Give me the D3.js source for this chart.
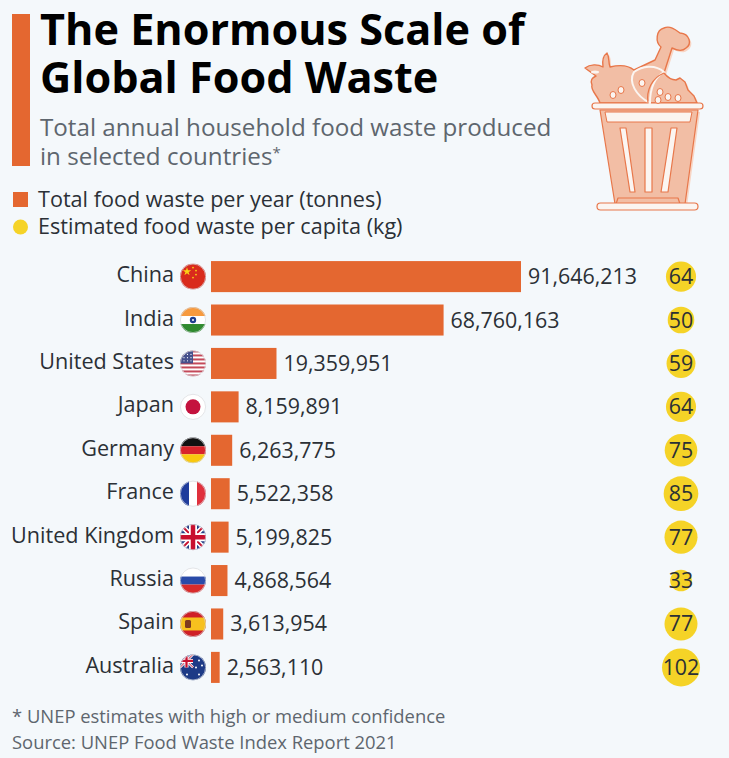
<!DOCTYPE html>
<html>
<head>
<meta charset="utf-8">
<script src="https://cdn.jsdelivr.net/npm/d3@7/dist/d3.min.js"></script>
<style>
html, body { margin: 0; padding: 0; background: #f4f8fb; }
svg { display: block; font-family: "Open Sans", sans-serif; }
</style>
</head>
<body>
<svg id="chart" width="729" height="758"></svg>
<script>
var countries = ['China','India','United States','Japan','Germany','France','United Kingdom','Russia','Spain','Australia'];
var totalWaste = [91646213,68760163,19359951,8159891,6263775,5522358,5199825,4868564,3613954,2563110];
var perCapita = [64,50,59,64,75,85,77,33,77,102];

var ORANGE = '#e46730', YELLOW = '#f5d327', INK = '#2b3036', GREY = '#5e666e';

var svg = d3.select('#chart');
svg.append('rect').attr('width', 729).attr('height', 758).attr('fill', '#f4f8fb');

// header
svg.append('rect').attr('x', 12).attr('y', 14).attr('width', 18).attr('height', 152).attr('fill', ORANGE);
var addText = function(x, y, str, size, weight, fill, anchor) {
    return svg.append('text').attr('x', x).attr('y', y).text(str)
        .attr('font-size', size).attr('font-weight', weight)
        .attr('fill', fill).attr('text-anchor', anchor || 'start');
};
addText(40, 45, 'The Enormous Scale of', 43.2, 700, '#000');
addText(40, 93, 'Global Food Waste', 43.2, 700, '#000');
addText(40, 136, 'Total annual household food waste produced', 24.2, 400, GREY);
var sub2 = addText(40, 165, 'in selected countries', 24.2, 400, GREY);
sub2.append('tspan').attr('font-size', 15).attr('dy', -7).text('*');

// legend
svg.append('rect').attr('x', 13).attr('y', 192).attr('width', 15).attr('height', 15).attr('fill', ORANGE);
svg.append('circle').attr('cx', 20.5).attr('cy', 227).attr('r', 7.5).attr('fill', YELLOW);
addText(38, 207, 'Total food waste per year (tonnes)', 21.6, 400, INK);
addText(38, 234, 'Estimated food waste per capita (kg)', 21.6, 400, INK);

// scales
var y = d3.scaleBand().domain(countries).range([255, 689]).paddingInner(0.285).paddingOuter(0.14);
var x = d3.scaleLinear().domain([0, d3.max(totalWaste)]).range([211, 521]);
var r = d3.scaleSqrt().domain([0, d3.max(perCapita)]).range([0, 19]);
var fmt = d3.format(',');
var rows = countries.map(function(c, i) {
    return { name: c, total: totalWaste[i], cap: perCapita[i], cy: y(c) + y.bandwidth() / 2 };
});

var row = svg.selectAll('.row').data(rows).enter().append('g').attr('class', 'row');
row.append('rect').attr('x', x(0)).attr('y', function(d) { return y(d.name); })
    .attr('width', function(d) { return x(d.total) - x(0); })
    .attr('height', y.bandwidth()).attr('fill', ORANGE);
row.append('text').attr('x', 174).attr('y', function(d) { return d.cy + 5.5; })
    .attr('text-anchor', 'end').attr('font-size', 21.6).attr('fill', INK)
    .text(function(d) { return d.name; });
row.append('text').attr('x', function(d) { return x(d.total) + 7; }).attr('y', function(d) { return d.cy + 7.5; })
    .attr('font-size', 21.4).attr('fill', INK)
    .text(function(d) { return fmt(d.total); });
row.append('circle').attr('cx', 681).attr('cy', function(d) { return d.cy; })
    .attr('r', function(d) { return r(d.cap); }).attr('fill', YELLOW);
row.append('text').attr('x', 681).attr('y', function(d) { return d.cy + 7.5; })
    .attr('text-anchor', 'middle').attr('font-size', 21.4).attr('fill', INK)
    .text(function(d) { return d.cap; });

// flags, each drawn in a 26x26 box centred on 0,0
var band = function(g, y0, h, c) { g.append('rect').attr('x', -13).attr('y', y0).attr('width', 26).attr('height', h).attr('fill', c); };
var vband = function(g, x0, w, c) { g.append('rect').attr('x', x0).attr('y', -13).attr('width', w).attr('height', 26).attr('fill', c); };
var dot = function(g, cx, cy, rad, c) { g.append('circle').attr('cx', cx).attr('cy', cy).attr('r', rad).attr('fill', c); };
var ukCross = function(g, scale) {
    var s = g.append('g').attr('transform', 'scale(' + scale + ')');
    s.append('path').attr('d', 'M-13,-13L13,13M13,-13L-13,13').attr('stroke', '#fff').attr('stroke-width', 5);
    s.append('path').attr('d', 'M-13,-13L13,13M13,-13L-13,13').attr('stroke', '#c8102e').attr('stroke-width', 2);
    s.append('path').attr('d', 'M0,-13V13M-13,0H13').attr('stroke', '#fff').attr('stroke-width', 8);
    s.append('path').attr('d', 'M0,-13V13M-13,0H13').attr('stroke', '#c8102e').attr('stroke-width', 4.5);
};
var flags = {
    'China': function(g) {
        band(g, -13, 26, '#d92b1c');
        g.append('path').attr('transform', 'translate(-6,-5)')
            .attr('d', d3.symbol().type(d3.symbolStar).size(22)()).attr('fill', '#fbd116');
        [[0,-9],[3,-6],[3,-2],[0,1]].forEach(function(p) { dot(g, p[0], p[1], 0.9, '#fbd116'); });
    },
    'India': function(g) {
        band(g, -13, 9, '#f79a3e'); band(g, -4, 8, '#fff'); band(g, 4, 9, '#2f8a2f');
        dot(g, 0, 0, 3.2, '#1f3f8f'); dot(g, 0, 0, 1, '#fff');
    },
    'United States': function(g) {
        band(g, -13, 26, '#fff');
        d3.range(7).forEach(function(i) { band(g, -13 + i * 4, 2, '#c44a5a'); });
        g.append('rect').attr('x', -13).attr('y', -13).attr('width', 13).attr('height', 13).attr('fill', '#46508c');
        d3.range(3).forEach(function(i) { d3.range(3).forEach(function(j) { dot(g, -9 + j * 3.5, -9 + i * 3.2, 0.6, '#fff'); }); });
    },
    'Japan': function(g) { band(g, -13, 26, '#fff'); dot(g, 0, 0, 7.5, '#c4123e'); },
    'Germany': function(g) { band(g, -13, 9, '#111'); band(g, -4, 8, '#d8242b'); band(g, 4, 9, '#f9c80e'); },
    'France': function(g) { vband(g, -13, 9, '#1f3c9c'); vband(g, -4, 8, '#fff'); vband(g, 4, 9, '#e0303c'); },
    'United Kingdom': function(g) { band(g, -13, 26, '#243f86'); ukCross(g, 1); },
    'Russia': function(g) { band(g, -13, 9, '#fff'); band(g, -4, 8, '#2a4ba8'); band(g, 4, 9, '#d92b2b'); },
    'Spain': function(g) {
        band(g, -13, 26, '#cf2027'); band(g, -6.5, 13, '#f7c11e');
        g.append('rect').attr('x', -8).attr('y', -4).attr('width', 6).attr('height', 8).attr('rx', 1.5).attr('fill', '#7d3a20');
    },
    'Australia': function(g) {
        band(g, -13, 26, '#1d3a86');
        var corner = g.append('g').attr('transform', 'translate(-6.5,-6.5)');
        corner.append('rect').attr('x', -6.5).attr('y', -6.5).attr('width', 13).attr('height', 13).attr('fill', '#243f86');
        ukCross(corner, 0.5);
        [[6,-7],[9,-2],[3,0],[6,7],[-6,7]].forEach(function(p) { dot(g, p[0], p[1], 1, '#fff'); });
    }
};
var defs = svg.append('defs');
defs.append('clipPath').attr('id', 'flagClip').append('circle').attr('r', 13);
rows.forEach(function(d) {
    var g = svg.append('g').attr('transform', 'translate(193,' + d.cy + ')');
    var inner = g.append('g').attr('clip-path', 'url(#flagClip)');
    flags[d.name](inner);
    g.append('circle').attr('r', 12.6).attr('fill', 'none').attr('stroke', '#d5d9dd').attr('stroke-width', 0.7);
});

// bin icon: soft offset shadow first, then fill with thin linework on top
var LINE = '#e8774a', SOFT = '#f2bea5', PALE = '#fbf5f1';
var food = 'M600,103C598,96 590,90 592,85C590,80 592,78 596,76L585,68C590,64 598,64 603,67C602,60 604,55 607,53C610,58 608,62 610,67C618,65 628,65 634,70L655,60L661,47C655,42 656,30 664,28C670,25 676,30 680,33C690,34 692,44 686,48C682,52 676,50 672,48L664,73C668,78 672,80 676,80L680,78L685,82L688,90L694,96L697,103Z';
var body = 'M600,110L698,110L685,204L615,204Z';
var icon = svg.append('g').attr('stroke-linejoin', 'round');
[food, body].forEach(function(p) {
    icon.append('path').attr('d', p).attr('transform', 'translate(2,2)').attr('fill', '#f8d5c4');
});
var shape = function(d, fill, width) {
    return icon.append('path').attr('d', d).attr('fill', fill).attr('stroke', LINE).attr('stroke-width', width || 1.2);
};
shape(body, SOFT);
shape(food, SOFT, 1.4);
// rim, white band, slots and foot
icon.append('rect').attr('x', 592).attr('y', 103).attr('width', 111).attr('height', 6).attr('rx', 3).attr('fill', PALE).attr('stroke', LINE).attr('stroke-width', 1.2);
shape('M605,112H692L690,122H607Z', PALE, 1);
shape('M620,128H626L635,192H630Z', PALE);
shape('M645,128H652V192H645Z', PALE);
shape('M671,128H677L668,192H661Z', PALE);
shape('M618,198H678L680,204H616Z', SOFT);
icon.append('rect').attr('x', 597).attr('y', 203).attr('width', 101).attr('height', 7).attr('rx', 3.5).attr('fill', PALE).attr('stroke', LINE).attr('stroke-width', 1.2);
// drumstick meat and holes
icon.append('path').attr('d', 'M634,72C628,82 636,96 650,103C650,88 654,78 664,72C655,64 642,66 634,72Z').attr('fill', SOFT).attr('stroke', PALE).attr('stroke-width', 2);
icon.append('path').attr('d', 'M648,103C646,90 652,78 664,73').attr('fill', 'none').attr('stroke', LINE).attr('stroke-width', 1.2);
var holes = [[613,95],[621,90],[642,83],[660,92],[658,100],[668,97],[678,98]];
icon.selectAll('.hole').data(holes).enter().append('ellipse').attr('class', 'hole')
    .attr('cx', function(d) { return d[0]; }).attr('cy', function(d) { return d[1]; })
    .attr('rx', 3).attr('ry', 3.5).attr('fill', PALE).attr('stroke', LINE).attr('stroke-width', 1);
icon.append('ellipse').attr('cx', 595).attr('cy', 72).attr('rx', 4).attr('ry', 1.5).attr('fill', PALE);

// footer
addText(12, 723, '* UNEP estimates with high or medium confidence', 18.4, 400, GREY);
addText(12, 749, 'Source: UNEP Food Waste Index Report 2021', 18.4, 400, GREY);
</script>
</body>
</html>
